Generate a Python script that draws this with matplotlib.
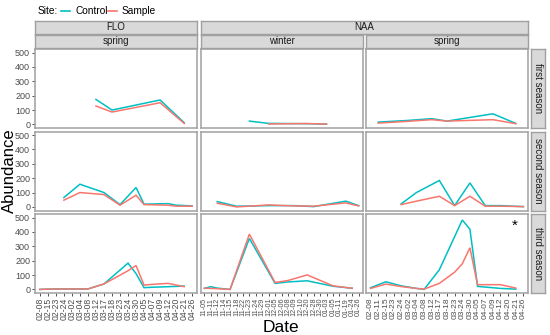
import numpy as np
import matplotlib
matplotlib.use("Agg")
import matplotlib.pyplot as plt
from matplotlib.lines import Line2D

plt.rcParams['font.family'] = ['Liberation Sans', 'DejaVu Sans']

N = np.nan

seasons = ["first season", "second season", "third season"]
sites = ["Control", "Sample"]
site_colors = {"Control": "#00BFC4", "Sample": "#F8766D"}

flo_dates = ["02-08", "02-15", "02-23", "02-24", "03-02", "03-04", "03-08", "03-12",
             "03-17", "03-18", "03-23", "03-24", "03-30", "04-05", "04-07", "04-09",
             "04-12", "04-20", "04-21", "04-26"]
winter_dates = ["11-05", "11-11", "11-12", "11-14", "11-15", "11-18", "11-22", "11-23",
                "11-24", "11-29", "12-01", "12-05", "12-06", "12-08", "12-09", "12-10",
                "12-20", "12-28", "12-30", "01-03", "01-05", "01-11", "01-19", "01-24",
                "01-26"]
spring_dates = ["02-08", "02-11", "02-15", "02-23", "02-24", "03-02", "03-04", "03-08",
                "03-12", "03-17", "03-18", "03-23", "03-24", "03-30", "04-05", "04-07",
                "04-09", "04-12", "04-20", "04-21", "04-26"]

# FLO / spring
flo_first_control = [N, N, N, N, N, N, N, 174, N, 100, N, N, N, N, N, 170, N, N, 12, N]
flo_first_sample = [N, N, N, N, N, N, N, 128, N, 86, N, N, N, N, N, 151, N, N, 7, N]
flo_second_control = [N, N, N, 65, N, 158, N, N, 100, N, 16, N, 135, 19, N, N, 23, 12, N, 7]
flo_second_sample = [N, N, N, 47, N, 100, N, N, 86, N, 12, N, 81, 16, N, N, 12, 5, N, 5]
flo_third_control = [0, 2, 3, N, 3, N, 3, N, 38, N, N, 183, 110, 12, 15, N, 19, N, 23, N]
flo_third_sample = [0, 2, 3, N, 3, N, 3, N, 38, N, N, 130, 166, 30, 35, N, 42, N, 19, N]

# NAA / winter
win_first_control = [N, N, N, N, N, N, N, 23, N, N, 7, N, N, N, N, N, 5, N, N, 2, N, N, N, N, N]
win_first_sample = [N, N, N, N, N, N, N, N, N, N, 3, N, N, N, N, N, 6, N, N, 2, N, N, N, N, N]
win_second_control = [N, N, 37, N, N, 5, N, N, 7, N, 9, N, 9, N, 9, N, N, 2, N, N, N, N, 40, N, 9]
win_second_sample = [N, N, 26, N, N, 0, N, N, 8, N, 14, N, 10, N, 7, N, N, 5, N, N, N, N, 28, N, 7]
win_third_control = [7, 19, 9, N, 0, N, N, 355, N, N, N, 42, N, 52, N, N, 60, N, N, N, 22, N, N, 8, N]
win_third_sample = [9, 7, 5, N, 0, N, N, 385, N, N, N, 48, N, 62, N, N, 101, N, N, N, 25, N, N, 8, N]

# NAA / spring
spr_first_control = [N, 16, N, N, N, 28, N, N, 40, N, 23, N, N, N, N, N, 74, N, N, 7, N]
spr_first_sample = [N, 9, N, N, N, 22, N, N, 33, N, 23, N, N, N, N, N, 33, N, N, 5, N]
spr_second_control = [N, N, N, N, 21, N, 100, N, N, 184, N, 9, N, 167, N, 9, N, 9, N, N, 2]
spr_second_sample = [N, N, N, N, 16, N, 40, N, N, 74, N, 9, N, 74, N, 5, N, 5, N, N, 2]
spr_third_control = [12, N, 53, N, 25, N, 7, 0, N, 137, N, N, 483, 419, 21, N, N, 7, N, 2, N]
spr_third_sample = [7, N, 37, N, 20, N, 7, 2, N, 42, N, 120, 178, 290, 33, N, N, 33, N, 9, N]

columns = [
    ("FLO", "spring", flo_dates, 6.2,
     [(flo_first_control, flo_first_sample),
      (flo_second_control, flo_second_sample),
      (flo_third_control, flo_third_sample)]),
    ("NAA", "winter", winter_dates, 5.2,
     [(win_first_control, win_first_sample),
      (win_second_control, win_second_sample),
      (win_third_control, win_third_sample)]),
    ("NAA", "spring", spring_dates, 6.0,
     [(spr_first_control, spr_first_sample),
      (spr_second_control, spr_second_sample),
      (spr_third_control, spr_third_sample)]),
]

W, H = 550, 335
fig = plt.figure(figsize=(W / 100, H / 100), dpi=100)


def box(left, top, w, h):
    return [left / W, 1 - (top + h) / H, w / W, h / H]


edge = "#A0A0A0"
strip_fill = "#D9D9D9"
col_left = [35, 200.5, 366]
col_w = 162
row_top = [49, 131.5, 214]
row_h = 79


def strip(left, top, w, h, label, rot=0):
    s = fig.add_axes(box(left, top, w, h))
    s.set_facecolor(strip_fill)
    s.set_xticks([])
    s.set_yticks([])
    for sp in s.spines.values():
        sp.set_color(edge)
        sp.set_linewidth(1.0)
    s.text(0.5, 0.5, label, transform=s.transAxes, ha="center", va="center",
           fontsize=7, color="#1A1A1A", rotation=rot)


for ci, (site, season, dates, xfs, rows) in enumerate(columns):
    x = np.arange(len(dates))
    for ri, (ctrl, samp) in enumerate(rows):
        ax = fig.add_axes(box(col_left[ci], row_top[ri], col_w, row_h))
        for name, vals in zip(sites, (ctrl, samp)):
            v = np.array(vals, dtype=float)
            m = ~np.isnan(v)
            ax.plot(x[m], v[m], color=site_colors[name], lw=1.1, solid_joinstyle="miter")
        ax.set_xlim(-0.6, len(dates) - 0.4)
        ax.set_ylim(-25, 525)
        ax.set_yticks([0, 100, 200, 300, 400, 500])
        ax.set_xticks(x)
        for sp in ax.spines.values():
            sp.set_color(edge)
            sp.set_linewidth(1.1)
        ax.tick_params(length=2.5, width=0.6, color="#333333", labelsize=6.5,
                       labelcolor="#4D4D4D", pad=1)
        if ci == 0:
            ax.set_yticklabels(["0", "100", "200", "300", "400", "500"])
        else:
            ax.tick_params(left=False, labelleft=False)
        if ri == 2:
            ax.set_xticklabels(dates, rotation=90, fontsize=xfs)
        else:
            ax.tick_params(bottom=False, labelbottom=False)
        if ci == 2 and ri == 2:
            ax.text(0.92, 0.85, "*", transform=ax.transAxes, ha="center",
                    va="center", fontsize=11, color="black")
        if ci == 2:
            strip(531, row_top[ri], 14, row_h, seasons[ri], rot=-90)
    strip(col_left[ci], 35, col_w, 13, season)

strip(col_left[0], 21, col_w, 13, "FLO")
strip(col_left[1], 21, col_left[2] + col_w - col_left[1], 13, "NAA")

fig.text(9 / W, 1 - 171 / H, "Abundance", rotation=90, ha="center", va="center",
         fontsize=12)
fig.text(281 / W, 1 - 327 / H, "Date", ha="center", va="center", fontsize=12.5)

# legend
ly = 1 - 11 / H
fig.text(38 / W, ly, "Site:", ha="left", va="center", fontsize=7.3)
fig.add_artist(Line2D([61 / W, 70 / W], [ly, ly], color=site_colors["Control"], lw=1.2))
fig.text(75 / W, ly, "Control", ha="left", va="center", fontsize=7.3)
fig.add_artist(Line2D([108 / W, 117 / W], [ly, ly], color=site_colors["Sample"], lw=1.2))
fig.text(122 / W, ly, "Sample", ha="left", va="center", fontsize=7.3)

fig.savefig("out.png", dpi=100)
